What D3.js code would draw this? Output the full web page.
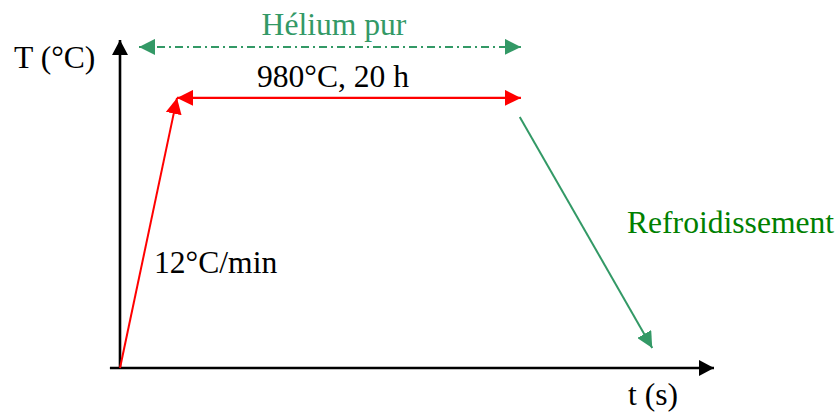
<!DOCTYPE html>
<html><head><meta charset="utf-8">
<script src="https://cdn.jsdelivr.net/npm/d3@7"></script>
<style>body{margin:0;background:#fff}svg{display:block}text{font-family:"Liberation Serif","Times New Roman",serif;font-size:31.6px}</style>
</head><body><svg id="c" width="839" height="412"></svg>
<script>
// Schematic heat-treatment cycle (data units: time 0-100 arbitrary, temperature °C)
const axisMax = {t: 100, T: 1190};
const heatingRamp = [{t: 0, T: 0}, {t: 9.6, T: 980}];
const holdSegment = [{t: 9.6, T: 980}, {t: 67.5, T: 980}];
const heliumSegment = [{t: 3.2, T: 1165}, {t: 67.5, T: 1165}];
const coolingSegment = [{t: 67.3, T: 911}, {t: 89.6, T: 73}];
const labels = ["T (°C)", "t (s)", "Hélium pur", "980°C, 20 h", "12°C/min", "Refroidissement"];

const svg = d3.select("#c");
const x = d3.scaleLinear().domain([0, axisMax.t]).range([120, 714]);
const y = d3.scaleLinear().domain([0, axisMax.T]).range([368, 40]);

const defs = svg.append("defs");
function marker(id, color, len, hw) {
  defs.append("marker").attr("id", id).attr("markerUnits", "userSpaceOnUse")
    .attr("viewBox", `0 ${-hw} ${len} ${2*hw}`).attr("refX", len).attr("refY", 0)
    .attr("markerWidth", len).attr("markerHeight", 2*hw).attr("orient", "auto-start-reverse")
    .append("path").attr("d", `M0,${-hw}L${len},0L0,${hw}Z`).attr("fill", color);
}
marker("ak", "#000", 15, 8);
marker("ar", "#ff0000", 16, 8);
marker("ag", "#339966", 16, 8);

const line = d3.line().x(d => x(d.t)).y(d => y(d.T));

// axes
svg.append("path").attr("d", line([{t: -1.7, T: 0}, {t: axisMax.t, T: 0}]))
  .attr("stroke", "#000").attr("stroke-width", 2.6).attr("fill", "none").attr("marker-end", "url(#ak)");
svg.append("path").attr("d", line([{t: 0, T: 0}, {t: 0, T: axisMax.T}]))
  .attr("stroke", "#000").attr("stroke-width", 2.6).attr("fill", "none").attr("marker-end", "url(#ak)");

// heating ramp
svg.append("path").attr("d", line(heatingRamp)).attr("stroke", "#ff0000").attr("stroke-width", 2)
  .attr("fill", "none").attr("marker-end", "url(#ar)");
// hold
svg.append("path").attr("d", line(holdSegment)).attr("stroke", "#ff0000").attr("stroke-width", 2.2)
  .attr("fill", "none").attr("marker-start", "url(#ar)").attr("marker-end", "url(#ar)");
// helium
svg.append("path").attr("d", line(heliumSegment)).attr("stroke", "#339966").attr("stroke-width", 2)
  .attr("stroke-dasharray", "8,4,2,4").attr("fill", "none")
  .attr("marker-start", "url(#ag)").attr("marker-end", "url(#ag)");
// cooling
svg.append("path").attr("d", line(coolingSegment)).attr("stroke", "#339966").attr("stroke-width", 2)
  .attr("fill", "none").attr("marker-end", "url(#ag)");

// labels
const txt = (s, px, py, color, anchor) => svg.append("text").attr("x", px).attr("y", py)
  .attr("fill", color).attr("text-anchor", anchor || "start").text(s);
txt(labels[0], 14, 68, "#000");
txt(labels[1], 628, 405, "#000");
txt(labels[2], 334, 35, "#339966", "middle");
txt(labels[3], 333, 87, "#000", "middle");
txt(labels[4], 154, 273, "#000");
txt(labels[5], 627, 233, "#008000");
</script></body></html>
